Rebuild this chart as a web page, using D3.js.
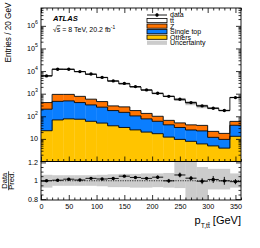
<!DOCTYPE html>
<html>
<head>
<meta charset="utf-8">
<script src="https://cdn.jsdelivr.net/npm/d3@7"></script>
<style>
  body { margin: 0; background: #fff; }
  svg { display: block; font-family: "Liberation Sans", Arial, Helvetica, sans-serif; }
</style>
</head>
<body>
<svg id="chart" width="260" height="248"></svg>
<script>
// bins of 20 GeV, last one holds the overflow
const binLow = [0, 20, 40, 60, 80, 100, 120, 140, 160, 180, 200, 220, 240, 260, 280, 300, 320, 340];
const binWidth = 20;

// entries per bin
const dataCounts = [6130, 12100, 12100, 9500, 7370, 5260, 3680, 2855, 2060, 1473, 1052, 760, 571, 404, 288, 228, 179, 672];
const ttbar      = [5730, 11100, 10970, 8670, 6610, 4720, 3300, 2460, 1810, 1300, 913, 695, 486, 351, 249, 204, 162, 620];
const zjets      = [198, 475, 451, 356, 252, 194, 109, 112, 75, 57, 40, 24, 19, 17, 17, 9.8, 8, 19.5];
const singleTop  = [183, 387, 403, 330, 259, 203, 141, 117, 79, 57, 43, 30, 22.5, 17, 16.6, 6.8, 5.6, 27];
const others     = [23, 69, 77, 74, 60, 50, 38, 32, 25, 20, 17, 12, 9.5, 7.8, 6, 4.9, 3.9, 13];

// ratio panel
const ratio    = [1.00, 1.006, 1.017, 1.008, 1.026, 1.019, 1.025, 1.05, 1.036, 1.026, 1.039, 0.999, 1.063, 1.028, 0.995, 1.014, 0.999, 0.99];
const ratioErr = [0.006, 0.005, 0.005, 0.006, 0.007, 0.008, 0.01, 0.011, 0.013, 0.015, 0.018, 0.021, 0.026, 0.024, 0.032, 0.038, 0.043, 0.028];
const uncUp    = [1.065, 1.06, 1.06, 1.06, 1.06, 1.065, 1.07, 1.075, 1.075, 1.08, 1.08, 1.085, 1.21, 1.21, 1.15, 1.13, 1.13, 1.08];
const uncDown  = [0.925, 0.945, 0.945, 0.945, 0.945, 0.94, 0.93, 0.93, 0.925, 0.925, 0.93, 0.925, 0.92, 0.785, 0.785, 0.905, 0.905, 0.925];

// axis labels
const xTicks = [0, 50, 100, 150, 200, 250, 300, 350];
const yExps = [1, 2, 3, 4, 5, 6];
const ratioTicks = [0.8, 1, 1.2];
const ratioMinor = [0.85, 0.9, 0.95, 1.05, 1.1, 1.15];

const legendItems = [
  { key: "data", label: "data" },
  { key: "ttbar", label: "tt\u0304" },
  { key: "zjets", label: "Z" },
  { key: "singleTop", label: "Single top" },
  { key: "others", label: "Others" },
  { key: "unc", label: "Uncertainty" }
];

const colors = { ttbar: "#ffffff", zjets: "#ff7300", singleTop: "#0a7eff", others: "#ffc400", unc: "#cccccc" };

const svg = d3.select("#chart");
const left = 41, right = 241, mainTop = 8, mainBottom = 161.5, ratioBottom = 200;

const x = d3.scaleLinear().domain([0, 360]).range([left, right]);
const y = d3.scaleLog().domain([1, Math.pow(10, 6.79)]).range([mainBottom, mainTop]).clamp(true);
const yr = d3.scaleLinear().domain([0.79, 1.21]).range([ratioBottom, mainBottom]).clamp(true);

svg.append("defs").append("clipPath").attr("id", "clipMain")
  .append("rect").attr("x", left).attr("y", mainTop).attr("width", right - left).attr("height", mainBottom - mainTop);

// ---------------- main panel ----------------
const rows = binLow.map((lo, i) => ({
  lo: lo, others: others[i], singleTop: singleTop[i], zjets: zjets[i], ttbar: ttbar[i]
}));
const keys = ["others", "singleTop", "zjets", "ttbar"];
const series = d3.stack().keys(keys)(rows);

const main = svg.append("g").attr("clip-path", "url(#clipMain)");

series.forEach(s => {
  main.append("g").selectAll("rect")
    .data(s)
    .join("rect")
    .attr("x", d => x(d.data.lo))
    .attr("width", x(binWidth) - x(0) + 0.3)
    .attr("y", d => y(d[1]))
    .attr("height", d => y(Math.max(d[0], 1)) - y(d[1]))
    .attr("fill", colors[s.key]);
});

// uncertainty around the total prediction
main.append("g").selectAll("rect")
  .data(series[3])
  .join("rect")
  .attr("x", d => x(d.data.lo))
  .attr("width", x(binWidth) - x(0))
  .attr("y", (d, i) => y(d[1] * uncUp[i]))
  .attr("height", (d, i) => y(d[1] * uncDown[i]) - y(d[1] * uncUp[i]))
  .attr("fill", "#9a9a9a")
  .attr("opacity", 0.55);

const step = d3.line().curve(d3.curveStepAfter);
series.forEach(s => {
  const pts = s.map(d => [x(d.data.lo), y(d[1])]);
  pts.push([x(360), y(s[s.length - 1][1])]);
  main.append("path")
    .attr("d", step(pts))
    .attr("fill", "none")
    .attr("stroke", "#000")
    .attr("stroke-width", 0.9);
});

// data points
const dataG = main.append("g");
dataG.selectAll("line")
  .data(dataCounts)
  .join("line")
  .attr("x1", (d, i) => x(binLow[i]))
  .attr("x2", (d, i) => x(binLow[i] + binWidth))
  .attr("y1", d => y(d))
  .attr("y2", d => y(d))
  .attr("stroke", "#000")
  .attr("stroke-width", 0.9);
dataG.selectAll("circle")
  .data(dataCounts)
  .join("circle")
  .attr("cx", (d, i) => x(binLow[i] + binWidth / 2))
  .attr("cy", d => y(d))
  .attr("r", 1.7)
  .attr("fill", "#000");

// ---------------- ratio panel ----------------
const rp = svg.append("g");
rp.selectAll("rect.band")
  .data(binLow)
  .join("rect")
  .attr("class", "band")
  .attr("x", d => x(d))
  .attr("width", x(binWidth) - x(0) + 0.3)
  .attr("y", (d, i) => yr(uncUp[i]))
  .attr("height", (d, i) => yr(uncDown[i]) - yr(uncUp[i]))
  .attr("fill", colors.unc);

rp.append("line")
  .attr("x1", left).attr("x2", right)
  .attr("y1", yr(1)).attr("y2", yr(1))
  .attr("stroke", "#000").attr("stroke-width", 0.8)
  .attr("stroke-dasharray", "1.2,1.2");

rp.selectAll("line.herr")
  .data(ratio)
  .join("line")
  .attr("class", "herr")
  .attr("x1", (d, i) => x(binLow[i]))
  .attr("x2", (d, i) => x(binLow[i] + binWidth))
  .attr("y1", d => yr(d)).attr("y2", d => yr(d))
  .attr("stroke", "#000").attr("stroke-width", 0.9);
rp.selectAll("line.verr")
  .data(ratio)
  .join("line")
  .attr("class", "verr")
  .attr("x1", (d, i) => x(binLow[i] + binWidth / 2))
  .attr("x2", (d, i) => x(binLow[i] + binWidth / 2))
  .attr("y1", (d, i) => yr(d + ratioErr[i]))
  .attr("y2", (d, i) => yr(d - ratioErr[i]))
  .attr("stroke", "#000").attr("stroke-width", 0.9);
rp.selectAll("circle")
  .data(ratio)
  .join("circle")
  .attr("cx", (d, i) => x(binLow[i] + binWidth / 2))
  .attr("cy", d => yr(d))
  .attr("r", 1.7)
  .attr("fill", "#000");

// ---------------- axes ----------------
const xMinor = d3.range(0, 361, 10).filter(v => v % 50 !== 0);
const yMinor = [];
for (let e = 0; e < 7; e++) for (let m = 2; m <= 9; m++) {
  const v = m * Math.pow(10, e);
  if (v < y.domain()[1]) yMinor.push(v);
}
const yMajor = yExps.map(e => Math.pow(10, e));

function clean(g) {
  g.select(".domain").remove();
  g.selectAll("line").attr("stroke", "#000").attr("stroke-width", 0.8);
  g.selectAll("text").remove();
}

// main panel ticks, all pointing inward
svg.append("g").attr("transform", `translate(0,${mainBottom})`)
  .call(d3.axisBottom(x).tickValues(xTicks).tickSize(-5)).call(clean);
svg.append("g").attr("transform", `translate(0,${mainBottom})`)
  .call(d3.axisBottom(x).tickValues(xMinor).tickSize(-2.5)).call(clean);
svg.append("g").attr("transform", `translate(0,${mainTop})`)
  .call(d3.axisTop(x).tickValues(xTicks).tickSize(-5)).call(clean);
svg.append("g").attr("transform", `translate(0,${mainTop})`)
  .call(d3.axisTop(x).tickValues(xMinor).tickSize(-2.5)).call(clean);
svg.append("g").attr("transform", `translate(${left},0)`)
  .call(d3.axisLeft(y).tickValues(yMajor).tickSize(-5)).call(clean);
svg.append("g").attr("transform", `translate(${left},0)`)
  .call(d3.axisLeft(y).tickValues(yMinor).tickSize(-2.5)).call(clean);
svg.append("g").attr("transform", `translate(${right},0)`)
  .call(d3.axisRight(y).tickValues(yMajor).tickSize(-5)).call(clean);
svg.append("g").attr("transform", `translate(${right},0)`)
  .call(d3.axisRight(y).tickValues(yMinor).tickSize(-2.5)).call(clean);

// ratio panel ticks
const xAxisG = svg.append("g").attr("transform", `translate(0,${ratioBottom})`)
  .call(d3.axisBottom(x).tickValues(xTicks).tickSize(-5).tickPadding(4));
xAxisG.select(".domain").remove();
xAxisG.selectAll("line").attr("stroke", "#000").attr("stroke-width", 0.8);
xAxisG.selectAll("text").attr("font-size", 7.2).attr("font-family", "Liberation Sans, Arial, sans-serif").attr("fill", "#000");
svg.append("g").attr("transform", `translate(0,${ratioBottom})`)
  .call(d3.axisBottom(x).tickValues(xMinor).tickSize(-2.5)).call(clean);
svg.append("g").attr("transform", `translate(${left},0)`)
  .call(d3.axisLeft(yr).tickValues(ratioTicks).tickSize(-5)).call(clean);
svg.append("g").attr("transform", `translate(${left},0)`)
  .call(d3.axisLeft(yr).tickValues(ratioMinor).tickSize(-2.5)).call(clean);
svg.append("g").attr("transform", `translate(${right},0)`)
  .call(d3.axisRight(yr).tickValues(ratioTicks).tickSize(-5)).call(clean);
svg.append("g").attr("transform", `translate(${right},0)`)
  .call(d3.axisRight(yr).tickValues(ratioMinor).tickSize(-2.5)).call(clean);

// frames
svg.append("rect").attr("x", left).attr("y", mainTop).attr("width", right - left).attr("height", mainBottom - mainTop)
  .attr("fill", "none").attr("stroke", "#000").attr("stroke-width", 0.9);
svg.append("rect").attr("x", left).attr("y", mainBottom).attr("width", right - left).attr("height", ratioBottom - mainBottom)
  .attr("fill", "none").attr("stroke", "#000").attr("stroke-width", 0.9);

// y tick labels (log)
const yLab = svg.append("g").attr("font-size", 7.2).attr("fill", "#000");
yExps.forEach(e => {
  const t = yLab.append("text")
    .attr("x", 38)
    .attr("y", y(Math.pow(10, e)))
    .attr("dy", "0.35em")
    .attr("text-anchor", "end");
  t.append("tspan").text("10");
  if (e > 1) t.append("tspan").attr("font-size", 5.2).attr("dy", "-0.75em").text(e);
});
// ratio tick labels
svg.append("g").attr("font-size", 7.2).selectAll("text")
  .data(ratioTicks)
  .join("text")
  .attr("x", 38)
  .attr("y", d => yr(d))
  .attr("dy", "0.35em")
  .attr("text-anchor", "end")
  .text(d => d3.format("")(d));

// axis titles
svg.append("text")
  .attr("transform", "translate(11,2.5) rotate(-90)")
  .attr("text-anchor", "end")
  .attr("font-size", 8.2)
  .text("Entries / 20 GeV");

const ratioTitle = svg.append("g").attr("transform", `translate(0,${yr(1)}) rotate(-90)`).attr("font-size", 7.6);
ratioTitle.append("text").attr("x", 0).attr("y", 7.4).attr("text-anchor", "middle").text("Data");
ratioTitle.append("text").attr("x", 0).attr("y", 14.4).attr("text-anchor", "middle").text("Pred.");
ratioTitle.append("line").attr("x1", -9.5).attr("x2", 9.5).attr("y1", 8.6).attr("y2", 8.6).attr("stroke", "#000").attr("stroke-width", 0.7);

const xt = svg.append("text")
  .attr("x", right)
  .attr("y", 224)
  .attr("text-anchor", "end")
  .attr("font-size", 11);
xt.append("tspan").text("p");
xt.append("tspan").attr("font-size", 6.8).attr("dy", 4).text("T,tt\u0304");
xt.append("tspan").attr("dy", -4).text(" [GeV]");

// ATLAS label
svg.append("text").attr("x", 53).attr("y", 21)
  .attr("font-size", 7.6).attr("font-weight", "bold").attr("font-style", "italic")
  .text("ATLAS");
const en = svg.append("text").attr("x", 53).attr("y", 31.5).attr("font-size", 7);
en.append("tspan").text("\u221A");
en.append("tspan").attr("text-decoration", "overline").text("s");
en.append("tspan").text(" = 8 TeV, 20.2 fb");
en.append("tspan").attr("font-size", 4.9).attr("dy", -2.9).text("-1");

// legend
const lg = svg.append("g").attr("font-size", 7);
const lx = 147, lw = 20, ly0 = 15, ldy = 5.55;
legendItems.forEach((it, i) => {
  const cy = ly0 + i * ldy;
  if (it.key === "data") {
    lg.append("line").attr("x1", lx).attr("x2", lx + lw).attr("y1", cy).attr("y2", cy).attr("stroke", "#000").attr("stroke-width", 0.9);
    lg.append("line").attr("x1", lx + lw / 2).attr("x2", lx + lw / 2).attr("y1", cy - 1.5).attr("y2", cy + 1.5).attr("stroke", "#000").attr("stroke-width", 0.9);
    lg.append("circle").attr("cx", lx + lw / 2).attr("cy", cy).attr("r", 1.7).attr("fill", "#000");
  } else {
    lg.append("rect").attr("x", lx).attr("y", cy - 2.1).attr("width", lw).attr("height", 4.2)
      .attr("fill", colors[it.key])
      .attr("stroke", it.key === "unc" ? "none" : "#000")
      .attr("stroke-width", 0.8);
  }
  lg.append("text").attr("x", lx + lw + 3).attr("y", cy).attr("dy", "0.35em").text(it.label);
});
</script>
</body>
</html>
